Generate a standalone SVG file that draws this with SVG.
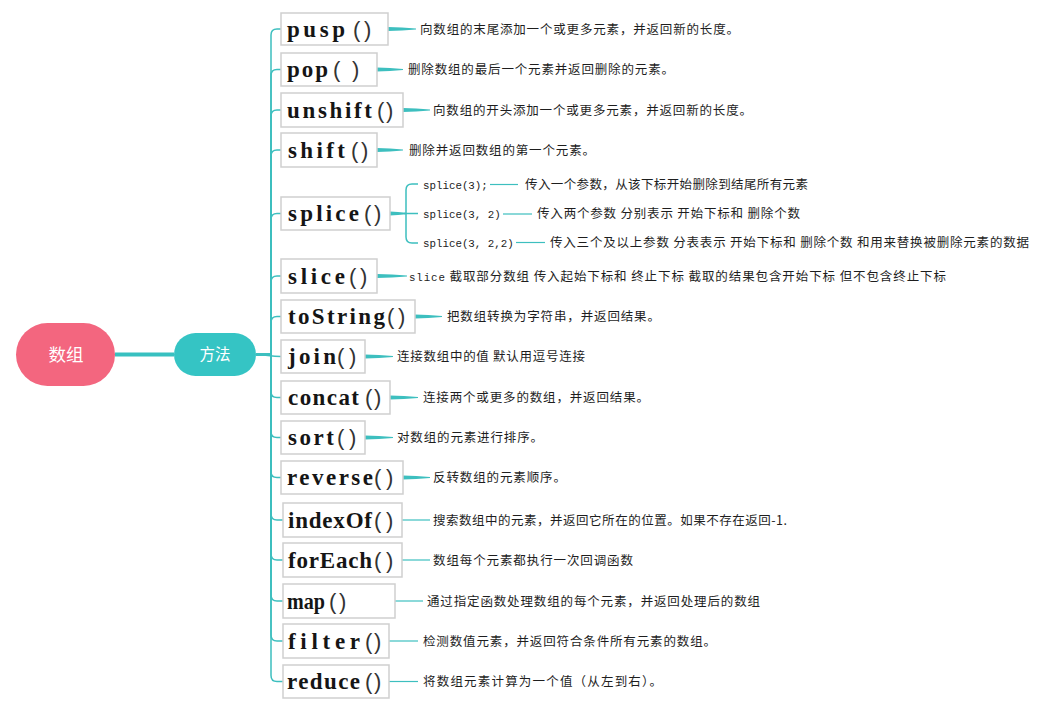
<svg xmlns="http://www.w3.org/2000/svg" width="1048" height="709" viewBox="0 0 1048 709">
<style>
.bg{fill:#ffffff}
.box{fill:#ffffff;stroke:#cfcfcf;stroke-width:1.5}
.name{font-family:"Liberation Serif","DejaVu Serif",serif;font-weight:bold;font-size:23px;fill:#151515}
.par{font-family:"Liberation Sans","DejaVu Sans",sans-serif;font-weight:normal;font-size:22px;fill:#333}
.desc{font-family:"Noto Sans CJK SC",sans-serif;font-size:12.5px;fill:#1e1e1e}
.mono{font-family:"Liberation Mono",monospace;font-size:10.8px;fill:#222}
.br{fill:none;stroke:#3dbfbf;stroke-width:1.5}
.thin{fill:none;stroke:#3dbfbf;stroke-width:1.2}
.taper{fill:#3dbfbf}
.pill-text{font-family:"Noto Sans CJK SC",sans-serif;fill:#ffffff;text-anchor:middle}
</style>
<rect class="bg" x="0" y="0" width="1048" height="709"/>

<g id="connectors">
  <line x1="115" y1="354.5" x2="174" y2="354.5" stroke="#38c0c0" stroke-width="4"/>
  <path class="br" d="M256,354.5 H271 V35 Q271,29 277,29 H281"/>
  <path class="br" d="M256,354.5 H271 V75.5 Q271,69.5 277,69.5 H281"/>
  <path class="br" d="M256,354.5 H271 V116 Q271,110 277,110 H281"/>
  <path class="br" d="M256,354.5 H271 V156 Q271,150 277,150 H281"/>
  <path class="br" d="M256,354.5 H271 V219.5 Q271,213.5 277,213.5 H281"/>
  <path class="br" d="M256,354.5 H271 V282 Q271,276 277,276 H281"/>
  <path class="br" d="M256,354.5 H271 V322.5 Q271,316.5 277,316.5 H281"/>
  <path class="br" d="M256,354.5 C266,354.5 270,356.5 281,356.5"/>
  <path class="br" d="M256,354.5 H271 V391.5 Q271,397.5 277,397.5 H281"/>
  <path class="br" d="M256,354.5 H271 V431.5 Q271,437.5 277,437.5 H281"/>
  <path class="br" d="M256,354.5 H271 V471.5 Q271,477.5 277,477.5 H281"/>
  <path class="br" d="M256,354.5 H271 V514 Q271,520 277,520 H283"/>
  <path class="br" d="M256,354.5 H271 V554 Q271,560 277,560 H283"/>
  <path class="br" d="M256,354.5 H271 V595 Q271,601 277,601 H283"/>
  <path class="br" d="M256,354.5 H271 V635 Q271,641 277,641 H283"/>
  <path class="br" d="M256,354.5 H271 V675.5 Q271,681.5 277,681.5 H283"/>

  <path class="taper" d="M388,27 Q402,27.4 416,28.5 V29.5 Q402,30.6 388,31 Z"/>
  <path class="taper" d="M377,67.5 Q390,67.9 403,69 V70 Q390,71.1 377,71.5 Z"/>
  <path class="taper" d="M403,108 Q416,108.4 430,109.5 V110.5 Q416,111.6 403,112 Z"/>
  <path class="taper" d="M377,148 Q390,148.4 403,149.5 V150.5 Q390,151.6 377,152 Z"/>
  <path class="taper" d="M390,211.5 Q398,211.9 406,212.7 V214.3 Q398,215.1 390,215.5 Z"/>
  <path class="br" d="M418,184 H412 Q406,184 406,190 V237 Q406,243 412,243 H418"/>
  <line class="br" x1="404" y1="213.5" x2="418" y2="213.5"/>
  <line class="thin" x1="490" y1="184.5" x2="518" y2="184.5"/>
  <line class="thin" x1="503" y1="214" x2="532" y2="214"/>
  <line class="thin" x1="516" y1="242.5" x2="545" y2="242.5"/>
  <path class="taper" d="M377,274 Q392,274.4 407,275.5 V276.5 Q392,277.6 377,278 Z"/>
  <path class="taper" d="M415,314.5 Q428,314.9 442,316 V317 Q428,318.1 415,318.5 Z"/>
  <path class="taper" d="M365,354.5 Q379,354.9 393,356 V357 Q379,358.1 365,358.5 Z"/>
  <path class="taper" d="M390,395.5 Q404,395.9 418,397 V398 Q404,399.1 390,399.5 Z"/>
  <path class="taper" d="M365,435.5 Q379,435.9 393,437 V438 Q379,439.1 365,439.5 Z"/>
  <path class="taper" d="M403,475.5 Q416,475.9 430,477 V478 Q416,479.1 403,479.5 Z"/>
  <line class="thin" x1="402" y1="520" x2="430" y2="520"/>
  <line class="thin" x1="402" y1="560" x2="430" y2="560"/>
  <line class="thin" x1="395" y1="601" x2="423" y2="601"/>
  <line class="thin" x1="389" y1="641" x2="418" y2="641"/>
  <line class="thin" x1="389" y1="681.5" x2="418" y2="681.5"/>
</g>

<g id="node-root">
  <rect x="16" y="323" width="99" height="63" rx="31.5" fill="#f3667f"/>
  <text class="pill-text" x="66" y="360.5" font-size="17.5">数组</text>
</g>
<g id="node-methods">
  <rect x="174" y="333" width="82" height="43" rx="21.5" fill="#35c4c4"/>
  <text class="pill-text" x="215" y="360" font-size="15.5">方法</text>
</g>

<g id="node-pusp">
  <rect class="box" x="281" y="13" width="107" height="32"/>
  <text class="name" x="287" y="36.5"><tspan textLength="58" lengthAdjust="spacing">pusp</tspan><tspan class="par" x="353">(</tspan><tspan class="par" x="364">)</tspan></text>
  <text class="desc" x="420" y="33.5" textLength="319" lengthAdjust="spacing">向数组的末尾添加一个或更多元素，并返回新的长度。</text>
</g>
<g id="node-pop">
  <rect class="box" x="281" y="53" width="96" height="33"/>
  <text class="name" x="287" y="77"><tspan textLength="41" lengthAdjust="spacing">pop</tspan><tspan class="par" x="333">(</tspan><tspan class="par" x="352">)</tspan></text>
  <text class="desc" x="408" y="74" textLength="266" lengthAdjust="spacing">删除数组的最后一个元素并返回删除的元素。</text>
</g>
<g id="node-unshift">
  <rect class="box" x="281" y="93" width="122" height="34"/>
  <text class="name" x="287" y="117.5"><tspan textLength="85" lengthAdjust="spacing">unshift</tspan><tspan class="par" x="377">(</tspan><tspan class="par" x="386">)</tspan></text>
  <text class="desc" x="433" y="114.5" textLength="319" lengthAdjust="spacing">向数组的开头添加一个或更多元素，并返回新的长度。</text>
</g>
<g id="node-shift">
  <rect class="box" x="281" y="133" width="96" height="34"/>
  <text class="name" x="288" y="157.5"><tspan textLength="57" lengthAdjust="spacing">shift</tspan><tspan class="par" x="351">(</tspan><tspan class="par" x="361">)</tspan></text>
  <text class="desc" x="409" y="154.5" textLength="186" lengthAdjust="spacing">删除并返回数组的第一个元素。</text>
</g>
<g id="node-splice">
  <rect class="box" x="281" y="197" width="109" height="33"/>
  <text class="name" x="288" y="221"><tspan textLength="71" lengthAdjust="spacing">splice</tspan><tspan class="par" x="364">(</tspan><tspan class="par" x="374">)</tspan></text>
</g>
<g id="node-splice-1">
  <text class="mono" x="423" y="188.5">splice(3);</text>
  <text class="desc" x="525" y="188.5" textLength="283" lengthAdjust="spacing">传入一个参数，从该下标开始删除到结尾所有元素</text>
</g>
<g id="node-splice-2">
  <text class="mono" x="423" y="218">splice(3, 2)</text>
  <text class="desc" x="537" y="218" textLength="263" lengthAdjust="spacing">传入两个参数 分别表示 开始下标和 删除个数</text>
</g>
<g id="node-splice-3">
  <text class="mono" x="423" y="246.5">splice(3, 2,2)</text>
  <text class="desc" x="550" y="246.5" textLength="479" lengthAdjust="spacing">传入三个及以上参数 分表表示 开始下标和 删除个数 和用来替换被删除元素的数据</text>
</g>
<g id="node-slice">
  <rect class="box" x="281" y="259" width="96" height="34"/>
  <text class="name" x="288" y="283.5"><tspan textLength="57" lengthAdjust="spacing">slice</tspan><tspan class="par" x="349">(</tspan><tspan class="par" x="360">)</tspan></text>
  <text class="desc" x="409" y="280.5" textLength="537" lengthAdjust="spacing"><tspan class="mono" font-size="11px">slice</tspan> 截取部分数组  传入起始下标和 终止下标 截取的结果包含开始下标 但不包含终止下标</text>
</g>
<g id="node-toString">
  <rect class="box" x="281" y="300" width="134" height="33"/>
  <text class="name" x="288" y="324"><tspan textLength="97" lengthAdjust="spacing">toString</tspan><tspan class="par" x="387">(</tspan><tspan class="par" x="398">)</tspan></text>
  <text class="desc" x="447" y="321" textLength="213" lengthAdjust="spacing">把数组转换为字符串，并返回结果。</text>
</g>
<g id="node-join">
  <rect class="box" x="281" y="340" width="84" height="33"/>
  <text class="name" x="288" y="364"><tspan textLength="48" lengthAdjust="spacing">join</tspan><tspan class="par" x="337">(</tspan><tspan class="par" x="349">)</tspan></text>
  <text class="desc" x="397" y="361" textLength="188" lengthAdjust="spacing">连接数组中的值 默认用逗号连接</text>
</g>
<g id="node-concat">
  <rect class="box" x="281" y="381" width="109" height="33"/>
  <text class="name" x="288" y="405"><tspan textLength="71" lengthAdjust="spacing">concat</tspan><tspan class="par" x="365">(</tspan><tspan class="par" x="374">)</tspan></text>
  <text class="desc" x="423" y="402" textLength="226" lengthAdjust="spacing">连接两个或更多的数组，并返回结果。</text>
</g>
<g id="node-sort">
  <rect class="box" x="281" y="421" width="84" height="33"/>
  <text class="name" x="288" y="445"><tspan textLength="46" lengthAdjust="spacing">sort</tspan><tspan class="par" x="337">(</tspan><tspan class="par" x="349">)</tspan></text>
  <text class="desc" x="397" y="442" textLength="146" lengthAdjust="spacing">对数组的元素进行排序。</text>
</g>
<g id="node-reverse">
  <rect class="box" x="281" y="461" width="122" height="33"/>
  <text class="name" x="287" y="485"><tspan textLength="86" lengthAdjust="spacing">reverse</tspan><tspan class="par" x="374">(</tspan><tspan class="par" x="386">)</tspan></text>
  <text class="desc" x="433" y="482" textLength="133" lengthAdjust="spacing">反转数组的元素顺序。</text>
</g>
<g id="node-indexOf">
  <rect class="box" x="283" y="503" width="119" height="34"/>
  <text class="name" x="288" y="527.5"><tspan textLength="84" lengthAdjust="spacing">indexOf</tspan><tspan class="par" x="374">(</tspan><tspan class="par" x="386">)</tspan></text>
  <text class="desc" x="433" y="524.5" textLength="354" lengthAdjust="spacing">搜索数组中的元素，并返回它所在的位置。如果不存在返回-1.</text>
</g>
<g id="node-forEach">
  <rect class="box" x="283" y="543" width="119" height="34"/>
  <text class="name" x="288" y="567.5"><tspan textLength="84" lengthAdjust="spacing">forEach</tspan><tspan class="par" x="374">(</tspan><tspan class="par" x="386">)</tspan></text>
  <text class="desc" x="433" y="564.5" textLength="200" lengthAdjust="spacing">数组每个元素都执行一次回调函数</text>
</g>
<g id="node-map">
  <rect class="box" x="283" y="584" width="112" height="34"/>
  <text class="name" x="287" y="608.5"><tspan textLength="38" lengthAdjust="spacingAndGlyphs">map</tspan><tspan class="par" x="329">(</tspan><tspan class="par" x="339">)</tspan></text>
  <text class="desc" x="427" y="605.5" textLength="333" lengthAdjust="spacing">通过指定函数处理数组的每个元素，并返回处理后的数组</text>
</g>
<g id="node-filter">
  <rect class="box" x="283" y="624" width="106" height="34"/>
  <text class="name" x="288" y="648.5"><tspan textLength="72" lengthAdjust="spacing">filter</tspan><tspan class="par" x="365">(</tspan><tspan class="par" x="374">)</tspan></text>
  <text class="desc" x="423" y="645.5" textLength="293" lengthAdjust="spacing">检测数值元素，并返回符合条件所有元素的数组。</text>
</g>
<g id="node-reduce">
  <rect class="box" x="283" y="665" width="106" height="33"/>
  <text class="name" x="287" y="689"><tspan textLength="73" lengthAdjust="spacing">reduce</tspan><tspan class="par" x="365">(</tspan><tspan class="par" x="374">)</tspan></text>
  <text class="desc" x="423" y="686" textLength="239" lengthAdjust="spacing">将数组元素计算为一个值（从左到右）。</text>
</g>
</svg>
